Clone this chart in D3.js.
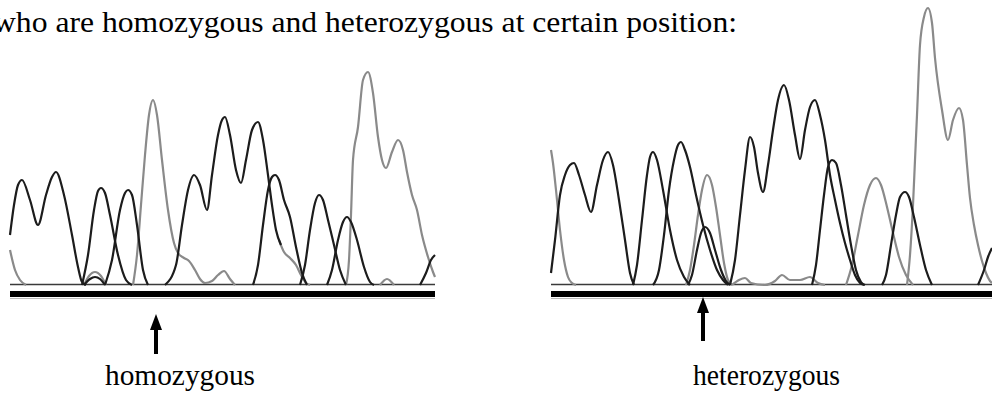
<!DOCTYPE html>
<html>
<head>
<meta charset="utf-8">
<script src="https://cdn.jsdelivr.net/npm/d3@7"></script>
<style>
  body { margin: 0; background: #fff; }
  svg { display: block; }
  text { font-family: "Liberation Serif", "Times New Roman", serif; fill: #000; }
</style>
</head>
<body>
<div id="chart"></div>
<script>
// page text
let titleText = "who are homozygous and heterozygous at certain position:";
let panelLabels = ["homozygous", "heterozygous"];

// traces: [scan position, signal]
let homoDark = [
    [[0,50],[4,80],[8,100],[12,105],[20,85],[28,60],[36,90],[42,108],[46,113],[54,90],[62,50],[68,18],[72,3],[76,0]],
    [[72,0],[78,30],[84,75],[88,94],[91,97],[95,92],[100,70],[108,30],[116,5],[122,0]],
    [[95,0],[102,25],[110,75],[115,92],[118,95],[122,90],[127,60],[133,15],[138,0]],
    [[74,0],[80,6],[85,8],[90,6],[95,0]],
    [[155,0],[166,20],[172,60],[178,95],[184,110],[190,100],[197,75],[202,110],[208,150],[212,165],[215,168],[220,150],[226,115],[231,102],[236,125],[242,155],[248,163],[253,145],[258,110],[262,80],[266,55],[271,40]],
    [[243,0],[248,20],[253,60],[258,95],[262,108],[265,110],[269,105],[274,85],[280,68],[286,38],[292,12],[297,0]],
    [[290,0],[295,20],[300,55],[305,82],[309,90],[313,85],[318,65],[324,40],[330,15],[336,0]],
    [[317,0],[322,15],[328,45],[333,63],[337,68],[341,63],[347,45],[354,18],[360,3],[364,0]],
    [[410,0],[416,12],[421,25],[425,30]]
];
let homoGray = [
    [[0,35],[5,15],[10,5],[16,0]],
    [[74,0],[79,9],[85,13],[91,9],[96,0]],
    [[123,0],[127,30],[131,80],[135,130],[139,170],[143,185],[147,170],[152,125],[158,75],[164,42],[168,32],[174,27],[179,24],[185,15],[190,6],[195,2],[202,4],[208,10],[214,14],[220,6],[225,0]],
    [[269,45],[274,33],[280,27],[286,20],[291,10],[296,2],[300,0]],
    [[336,0],[339,25],[341,70],[343,125],[348,158],[353,205],[358,213],[363,192],[368,148],[372,125],[376,117],[382,133],[388,145],[393,135],[397,113],[402,90],[407,75],[412,50],[418,28],[423,13],[425,8]],
    [[370,0],[377,6],[384,0]]
];
let hetDark = [
    [[0,12],[4,45],[9,90],[14,110],[19,120],[23,122],[28,110],[34,90],[40,73],[46,100],[52,125],[57,133],[62,120],[68,85],[74,45],[79,12],[83,0]],
    [[82,0],[86,20],[91,65],[96,110],[99,128],[102,133],[106,125],[112,95],[119,55],[126,25],[133,8],[139,0]],
    [[102,0],[108,15],[113,50],[118,95],[123,125],[127,140],[130,143],[134,135],[139,118],[145,90],[152,60],[159,35],[166,15],[172,5],[177,0]],
    [[137,0],[141,10],[146,35],[150,52],[154,58],[159,52],[164,35],[170,15],[175,4],[179,0]],
    [[179,0],[184,25],[189,70],[194,115],[199,148],[203,138],[207,112],[212,93],[217,120],[222,155],[227,185],[233,200],[238,185],[244,150],[249,126],[254,155],[259,178],[264,185],[269,170],[274,145],[279,110],[284,85],[289,62],[294,42],[299,25],[304,10],[309,2],[313,0]],
    [[261,0],[265,20],[269,55],[273,90],[277,118],[281,125],[285,122],[290,100],[295,70],[300,40],[305,15],[310,3],[314,0]],
    [[331,0],[335,10],[340,40],[345,70],[349,88],[354,93],[358,88],[363,68],[369,40],[375,15],[381,0]],
    [[427,0],[433,15],[437,28],[441,37]]
];
let hetGray = [
    [[0,135],[2,122],[5,95],[9,55],[13,25],[17,8],[21,2],[25,0]],
    [[135,0],[139,15],[143,40],[147,70],[151,95],[156,110],[161,100],[165,78],[169,50],[173,22],[177,5],[181,0]],
    [[181,0],[188,5],[194,7],[200,2],[214,0],[224,4],[231,10],[239,5],[249,5],[259,8],[267,2],[274,0]],
    [[295,0],[301,20],[307,50],[313,80],[319,100],[325,107],[330,100],[336,78],[342,52],[348,28],[355,10],[362,0]],
    [[356,0],[359,30],[362,80],[364,125],[366,170],[369,240],[373,268],[377,277],[381,262],[384,227],[391,175],[397,145],[402,165],[408,177],[412,165],[416,120],[419,87],[423,60],[427,40],[431,24],[435,12],[439,4],[441,2]]
];
// scan position of the base each arrow points at
let markedBase = [146, 152];

const width = 992, height = 405;
const svg = d3.select("#chart").append("svg")
    .attr("width", width)
    .attr("height", height);

// the reference page crops the first letter of this line
svg.append("text")
    .attr("x", -7)
    .attr("y", 32)
    .attr("font-size", "29px")
    .attr("textLength", 744)
    .attr("lengthAdjust", "spacingAndGlyphs")
    .text(titleText);

const yScale = d3.scaleLinear().domain([0, 285]).range([285, 0]);

let panels = [
    {dark: homoDark, gray: homoGray, x: d3.scaleLinear().domain([0, 425]).range([10, 435]),
     arrowTop: 314, arrowBottom: 354, labelX: 105, labelW: 150},
    {dark: hetDark, gray: hetGray, x: d3.scaleLinear().domain([0, 441]).range([551, 992]),
     arrowTop: 297, arrowBottom: 341, labelX: 693, labelW: 147}
];

panels.forEach((p, i) => {
    let g = svg.append("g");
    let line = d3.line()
        .x(d => p.x(d[0]))
        .y(d => yScale(d[1]))
        .curve(d3.curveMonotoneX);
    let [x0, x1] = p.x.range();

    // baseline and the thick bar under it
    g.append("line")
        .attr("x1", x0).attr("x2", x1)
        .attr("y1", yScale(0) - 0.5).attr("y2", yScale(0) - 0.5)
        .attr("stroke", "#3a3a3a")
        .attr("stroke-width", 1.5);
    g.append("rect")
        .attr("x", x0).attr("width", x1 - x0)
        .attr("y", 291).attr("height", 6)
        .attr("fill", "#000");
    g.append("line")
        .attr("x1", x0).attr("x2", x1)
        .attr("y1", 298.5).attr("y2", 298.5)
        .attr("stroke", "#bbb");

    g.selectAll("path.gray")
        .data(p.gray)
        .join("path")
        .attr("class", "gray")
        .attr("d", line)
        .attr("fill", "none")
        .attr("stroke", "#8a8a8a")
        .attr("stroke-width", 2.2);
    g.selectAll("path.dark")
        .data(p.dark)
        .join("path")
        .attr("class", "dark")
        .attr("d", line)
        .attr("fill", "none")
        .attr("stroke", "#1c1c1c")
        .attr("stroke-width", 2.2);

    // arrow pointing at the base
    let ax = p.x(markedBase[i]);
    g.append("line")
        .attr("x1", ax).attr("x2", ax)
        .attr("y1", p.arrowTop + 10).attr("y2", p.arrowBottom)
        .attr("stroke", "#000")
        .attr("stroke-width", 4);
    g.append("path")
        .attr("d", "M" + ax + "," + p.arrowTop + "L" + (ax - 6) + "," + (p.arrowTop + 16) +
            "L" + (ax + 6) + "," + (p.arrowTop + 16) + "Z")
        .attr("fill", "#000");

    g.append("text")
        .attr("x", p.labelX)
        .attr("y", 385)
        .attr("font-size", "29px")
        .attr("textLength", p.labelW)
        .attr("lengthAdjust", "spacingAndGlyphs")
        .text(panelLabels[i]);
});
</script>
</body>
</html>
